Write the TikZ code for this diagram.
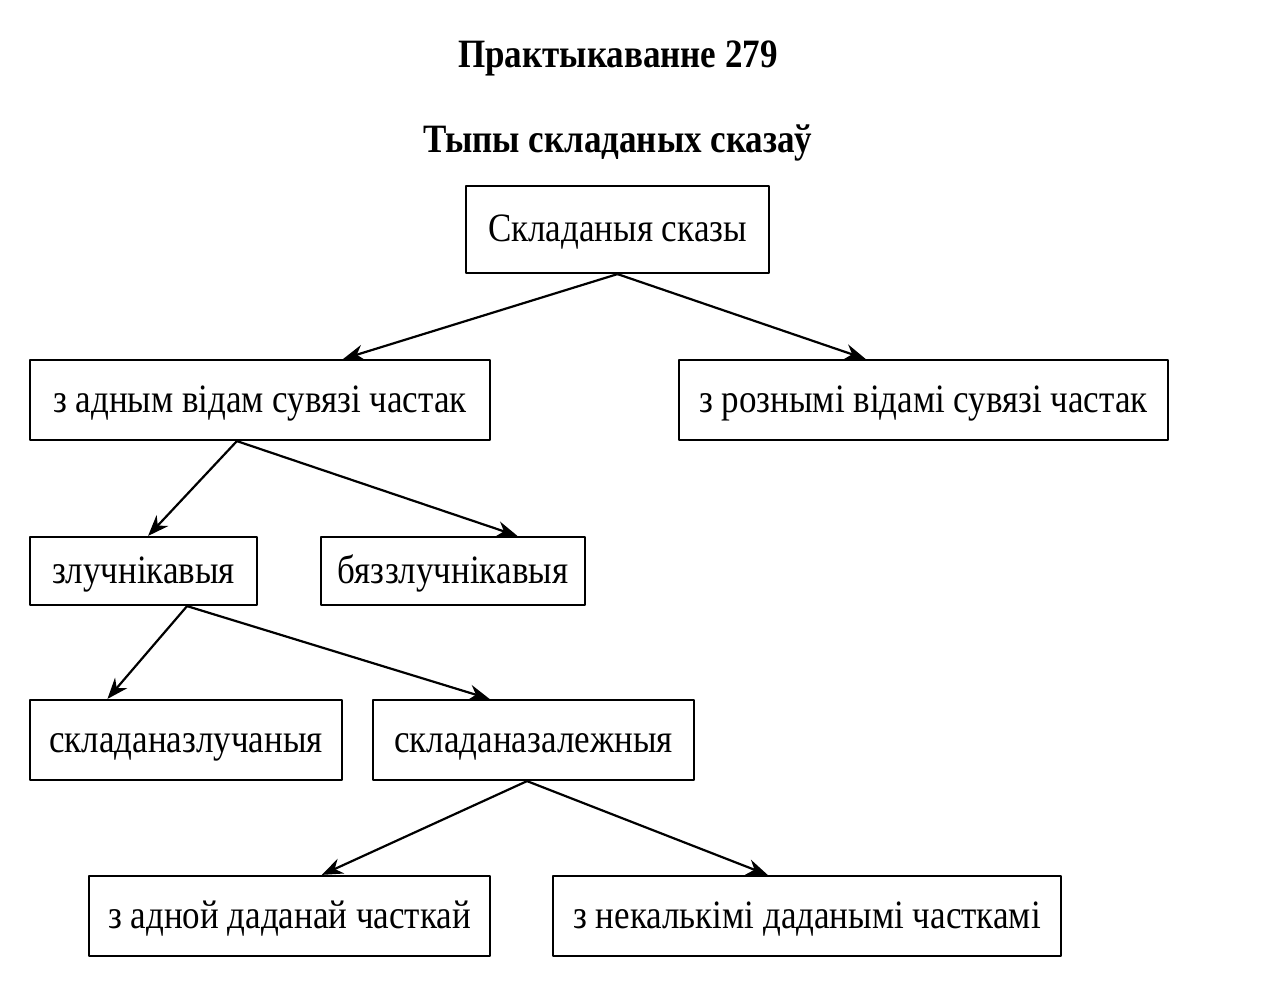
\documentclass[tikz,border=0pt]{standalone}
\usepackage{fontspec}
\setmainfont{Liberation Serif}
\usetikzlibrary{calc,arrows.meta}
\newcommand\tall[1]{\scalebox{1}[1.15]{#1}}
\begin{document}
\begin{tikzpicture}[line join=round,x=1pt,y=-1pt,line width=2.2pt]
 \tikzset{box/.style={draw,inner sep=0pt,text height=32pt,text depth=8pt,font=\fontsize{35}{40}\selectfont},
  head/.style={font=\bfseries\fontsize{35}{40}\selectfont},
  arr/.style={-{Stealth[length=21pt,width=16pt]},line width=2.2pt}}
 \useasboundingbox (0,0) rectangle (1271,1003);
 \node[head] (tit) at (618,58) {\tall{Практыкаванне 279}};
 \node[head] (sub) at (618,143) {\tall{Тыпы складаных сказаў}};
 \node[box,minimum width=303pt,minimum height=87pt] (skl) at (617.5,229.5) {\tall{Складаныя сказы}};
 \node[box,minimum width=460pt,minimum height=80pt] (adn) at (260,400) {\tall{з адным відам сувязі частак}};
 \node[box,minimum width=489pt,minimum height=80pt] (rzn) at (923.5,400) {\tall{з рознымі відамі сувязі частак}};
 \node[box,minimum width=227pt,minimum height=68pt] (zlu) at (143.5,571) {\tall{злучнікавыя}};
 \node[box,minimum width=264pt,minimum height=68pt] (bzl) at (453,571) {\tall{бяззлучнікавыя}};
 \node[box,minimum width=312pt,minimum height=80pt] (szl) at (186,740) {\tall{складаназлучаныя}};
 \node[box,minimum width=321pt,minimum height=80pt] (szh) at (533.5,740) {\tall{складаназалежныя}};
 \node[box,minimum width=401pt,minimum height=80pt] (adc) at (289.5,916) {\tall{з адной даданай часткай}};
 \node[box,minimum width=508pt,minimum height=80pt] (nek) at (807,916) {\tall{з некалькімі даданымі часткамі}};
 % strelki
 \draw[arr] (skl.south) -- ($(adn.north west)!0.68!(adn.north east)$);
 \draw[arr] (skl.south) -- ($(rzn.north west)!0.382!(rzn.north east)$);
 \draw[arr] ($(adn.south west)!0.45!(adn.south east)$) -- ($(zlu.north west)!0.52!(zlu.north east)$);
 \draw[arr] ($(adn.south west)!0.45!(adn.south east)$) -- ($(bzl.north west)!0.742!(bzl.north east)$);
 \draw[arr] ($(zlu.south west)!0.69!(zlu.south east)$) -- ($(szl.north west)!0.25!(szl.north east)$);
 \draw[arr] ($(zlu.south west)!0.69!(zlu.south east)$) -- ($(szh.north west)!0.364!(szh.north east)$);
 \draw[arr] ($(szh.south west)!0.48!(szh.south east)$) -- ($(adc.north west)!0.58!(adc.north east)$);
 \draw[arr] ($(szh.south west)!0.48!(szh.south east)$) -- ($(nek.north west)!0.423!(nek.north east)$);
\end{tikzpicture}
\end{document}
